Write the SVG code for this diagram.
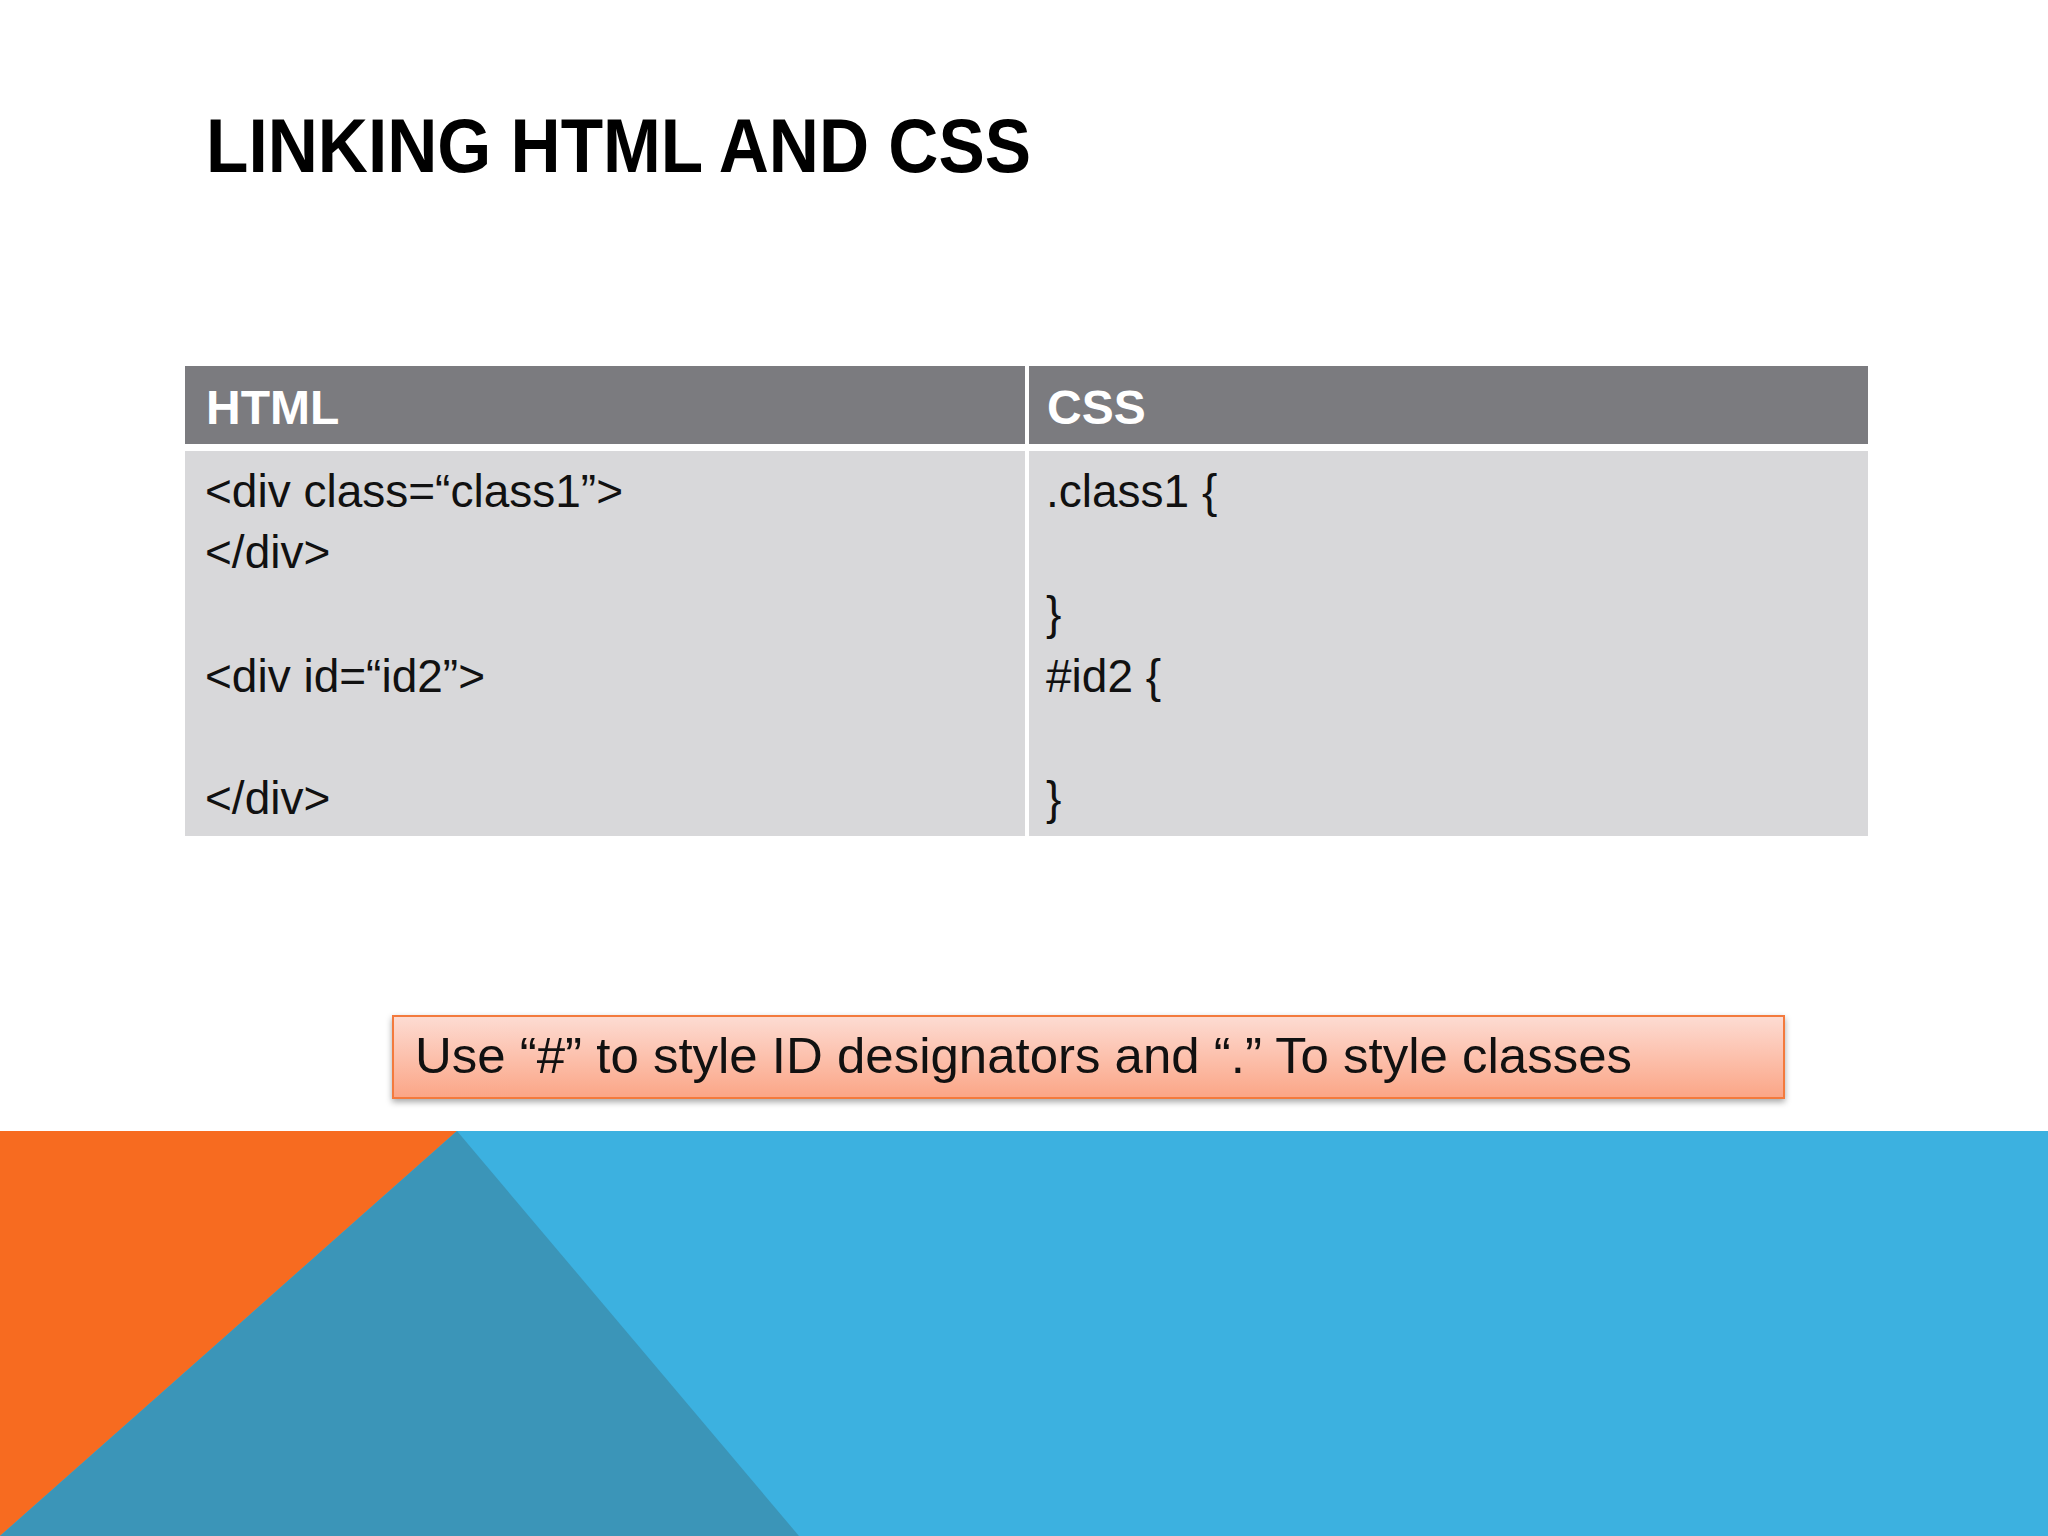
<svg xmlns="http://www.w3.org/2000/svg" width="2048" height="1536" viewBox="0 0 2048 1536">
<defs>
<linearGradient id="cg" x1="0" y1="0" x2="0" y2="1"><stop offset="0" stop-color="#fddcd3"/><stop offset="1" stop-color="#fba586"/></linearGradient>
<filter id="sh" x="-5%" y="-20%" width="110%" height="150%"><feDropShadow dx="0" dy="3" stdDeviation="3" flood-color="#000" flood-opacity="0.35"/></filter>
</defs>
<style>
.h{font-family:"Liberation Sans",Arial,sans-serif;font-weight:bold;font-size:48px;fill:#fff}
.b{font-family:"Liberation Sans",Arial,sans-serif;font-size:46px;fill:#111}
</style>
<rect width="2048" height="1536" fill="#fff"/>
<text x="206" y="172" font-family="Liberation Sans,Arial,sans-serif" font-weight="bold" font-size="76" textLength="825" lengthAdjust="spacingAndGlyphs" fill="#000">LINKING HTML AND CSS</text>
<g id="table">
<rect x="185" y="366" width="840" height="78" fill="#7b7b7f"/>
<rect x="1029" y="366" width="839" height="78" fill="#7b7b7f"/>
<rect x="185" y="451" width="840" height="385" fill="#d8d8da"/>
<rect x="1029" y="451" width="839" height="385" fill="#d8d8da"/>
<text class="h" x="206" y="424">HTML</text>
<text class="h" x="1047" y="424">CSS</text>
<text class="b" x="205" y="507">&lt;div class=“class1”&gt;</text>
<text class="b" x="205" y="568">&lt;/div&gt;</text>
<text class="b" x="205" y="692">&lt;div id=“id2”&gt;</text>
<text class="b" x="205" y="814">&lt;/div&gt;</text>
<text class="b" x="1046" y="507">.class1 {</text>
<text class="b" x="1046" y="629">}</text>
<text class="b" x="1046" y="692">#id2 {</text>
<text class="b" x="1046" y="814">}</text>
</g>
<g id="bg">
<rect x="0" y="1131" width="2048" height="405" fill="#3cb1e0"/>
<polygon points="0,1131 457,1131 0,1536" fill="#f76b20"/>
<polygon points="457,1131 799,1536 0,1536" fill="#3b95b8"/>
</g>
<g id="callout">
<rect x="393" y="1016" width="1391" height="82" fill="url(#cg)" stroke="#f37a3c" stroke-width="2" filter="url(#sh)"/>
<text x="415" y="1073" font-family="Liberation Sans,Arial,sans-serif" font-size="50" textLength="1217" lengthAdjust="spacingAndGlyphs" fill="#111">Use “#” to style ID designators and “.” To style classes</text>
</g>
</svg>
